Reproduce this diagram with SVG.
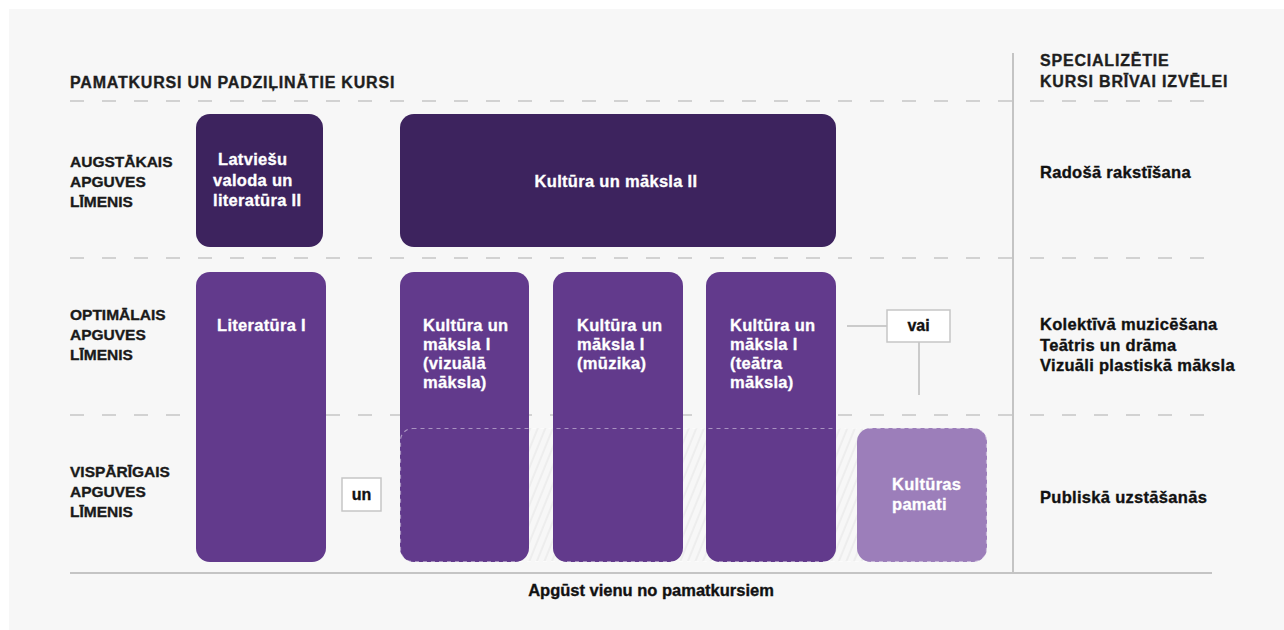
<svg xmlns="http://www.w3.org/2000/svg" width="1284" height="630" viewBox="0 0 1284 630">
<defs>
<style>
text{font-family:"Liberation Sans",Arial,sans-serif;font-weight:700;}
.hdr{font-size:16px;letter-spacing:0.8px;fill:#1e1e1e;stroke:#1e1e1e;stroke-width:0.35;}
.lvl{font-size:15.5px;fill:#1a1a1a;stroke:#1a1a1a;stroke-width:0.35;}
.spec{font-size:16.5px;fill:#111;letter-spacing:0.3px;stroke:#111;stroke-width:0.35;}
.bx{font-size:16.5px;fill:#ffffff;letter-spacing:0.3px;stroke:#ffffff;stroke-width:0.3;}
.dash{stroke:#c6c6c6;stroke-width:1.6;stroke-dasharray:14 18;fill:none;}
.solid{stroke:#c4c4c4;stroke-width:2;fill:none;}
.dark{fill:#3d235e;}
.mid{fill:#623a8c;}
.light{fill:#9c7eba;}
.tag{fill:#ffffff;stroke:#c6c6c6;stroke-width:1.5;}
.tagt{font-size:16px;fill:#111;text-anchor:middle;stroke:#111;stroke-width:0.35;}
.conn{stroke:#bdbdbd;stroke-width:1.5;fill:none;}
</style>
<pattern id="hatch" patternUnits="userSpaceOnUse" width="7" height="7" patternTransform="rotate(22)">
<line x1="1" y1="0" x2="1" y2="7" stroke="#e4e4e4" stroke-width="1"/>
</pattern>
</defs>
<rect x="0" y="0" width="1284" height="630" fill="#ffffff"/>
<rect x="9" y="9" width="1275" height="621" fill="#f7f7f7"/>

<g id="grid">
<line class="dash" x1="70" y1="101" x2="1212" y2="101"/>
<line class="dash" x1="70" y1="258" x2="1212" y2="258"/>
<line class="dash" x1="70" y1="415" x2="1212" y2="415"/>
<line class="solid" x1="70" y1="573" x2="1212" y2="573"/>
<line class="solid" x1="1013" y1="53" x2="1013" y2="573" stroke-width="1.6"/>
</g>

<g id="headers">
<text class="hdr" x="70" y="88">PAMATKURSI UN PADZIĻINĀTIE KURSI</text>
<text class="hdr" x="1040" y="66">SPECIALIZĒTIE</text>
<text class="hdr" x="1040" y="87">KURSI BRĪVAI IZVĒLEI</text>
</g>

<g id="level-labels">
<text class="lvl" x="70" y="167">AUGSTĀKAIS</text>
<text class="lvl" x="70" y="187">APGUVES</text>
<text class="lvl" x="70" y="207">LĪMENIS</text>
<text class="lvl" x="70" y="320">OPTIMĀLAIS</text>
<text class="lvl" x="70" y="340">APGUVES</text>
<text class="lvl" x="70" y="360">LĪMENIS</text>
<text class="lvl" x="70" y="477">VISPĀRĪGAIS</text>
<text class="lvl" x="70" y="497">APGUVES</text>
<text class="lvl" x="70" y="517">LĪMENIS</text>
</g>

<g id="specialized">
<text class="spec" x="1040" y="178">Radošā rakstīšana</text>
<text class="spec" x="1040" y="330">Kolektīvā muzicēšana</text>
<text class="spec" x="1040" y="351">Teātris un drāma</text>
<text class="spec" x="1040" y="371">Vizuāli plastiskā māksla</text>
<text class="spec" x="1040" y="503">Publiskā uzstāšanās</text>
</g>

<g id="hatch-area">
<rect x="400" y="428" width="587" height="133" rx="12" fill="url(#hatch)"/>
</g>

<g id="node-latviesu">
<rect class="dark" x="196" y="114" width="127" height="133" rx="14"/>
<text class="bx" x="218" y="165">Latviešu</text>
<text class="bx" x="213" y="186">valoda un</text>
<text class="bx" x="213" y="206">literatūra II</text>
</g>

<g id="node-kultura-ii">
<rect class="dark" x="400" y="114" width="436" height="133" rx="14"/>
<text class="bx" x="616" y="187" text-anchor="middle">Kultūra un māksla II</text>
</g>

<g id="node-literatura-i">
<rect class="mid" x="196" y="272" width="130" height="290" rx="14"/>
<text class="bx" x="217" y="331">Literatūra I</text>
</g>

<g id="node-kum-vizuala">
<rect class="mid" x="400" y="272" width="129" height="290" rx="14"/>
<text class="bx" x="423" y="331">Kultūra un</text>
<text class="bx" x="423" y="350">māksla I</text>
<text class="bx" x="423" y="369">(vizuālā</text>
<text class="bx" x="423" y="388">māksla)</text>
</g>

<g id="node-kum-muzika">
<rect class="mid" x="553" y="272" width="130" height="290" rx="14"/>
<text class="bx" x="577" y="331">Kultūra un</text>
<text class="bx" x="577" y="350">māksla I</text>
<text class="bx" x="577" y="369">(mūzika)</text>
</g>

<g id="node-kum-teatra">
<rect class="mid" x="706" y="272" width="130" height="290" rx="14"/>
<text class="bx" x="730" y="331">Kultūra un</text>
<text class="bx" x="730" y="350">māksla I</text>
<text class="bx" x="730" y="369">(teātra</text>
<text class="bx" x="730" y="388">māksla)</text>
</g>

<g id="node-kulturas-pamati">
<rect class="light" x="857" y="428" width="130" height="134" rx="14"/>
<text class="bx" x="892" y="490">Kultūras</text>
<text class="bx" x="892" y="510">pamati</text>
</g>

<g id="dashed-outline">
<rect x="400.5" y="428.5" width="586" height="133" rx="12" fill="none" stroke="#ffffff" stroke-opacity="0.45" stroke-width="1.2" stroke-dasharray="4 4"/>
</g>

<g id="connectors">
<line class="conn" x1="847" y1="326" x2="887" y2="326"/>
<line class="conn" x1="919" y1="342" x2="919" y2="395"/>
</g>

<g id="node-vai">
<rect class="tag" x="887" y="310" width="63" height="32"/>
<text class="tagt" x="918.5" y="331">vai</text>
</g>

<g id="node-un">
<rect class="tag" x="342" y="478" width="39" height="33"/>
<text class="tagt" x="361.5" y="500">un</text>
</g>

<g id="footer">
<text x="651" y="596" text-anchor="middle" font-size="16.5" fill="#111" stroke="#111" stroke-width="0.35">Apgūst vienu no pamatkursiem</text>
</g>
</svg>
